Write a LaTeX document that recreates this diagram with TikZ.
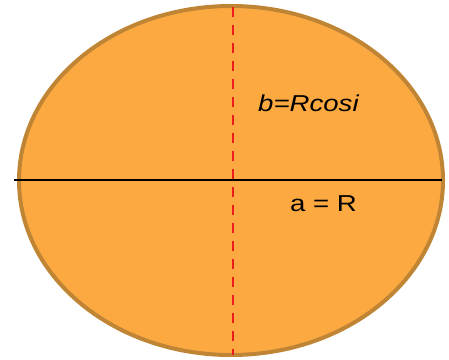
\documentclass[tikz,border=0pt]{standalone}
\usepackage{fontspec}
\setmainfont{Liberation Sans}
\usetikzlibrary{shapes.geometric}
\definecolor{ofill}{HTML}{FCA942}
\definecolor{oline}{HTML}{BF8535}
\definecolor{dred}{HTML}{EE1C1C}
\begin{document}
\begin{tikzpicture}[x=1pt,y=-1pt,
  lbl/.style={inner sep=0pt,anchor=base west,font=\fontsize{23}{25}\selectfont}]
\useasboundingbox (0,0) rectangle (449,359);
\node[draw=oline,line width=4pt,fill=ofill,ellipse,minimum width=424pt,minimum height=349pt,inner sep=0pt] (ell) at (231,180.5) {};
\coordinate (hl) at (14,180);
\coordinate (hr) at (442,180);
\coordinate (vt) at (233,7);
\coordinate (vb) at (233,355);
\draw[dred,line width=2.4pt,dash pattern=on 9.5pt off 8.5pt] (vt) -- (vb);
\draw[black,line width=2.2pt] (hl) -- (hr);
\node[lbl] (b) at (258,111) {\scalebox{1.2}[1]{\itshape b=Rcosi}};
\node[lbl] (a) at (290,211) {\scalebox{1.2}[1]{a = R}};
\end{tikzpicture}
\end{document}
